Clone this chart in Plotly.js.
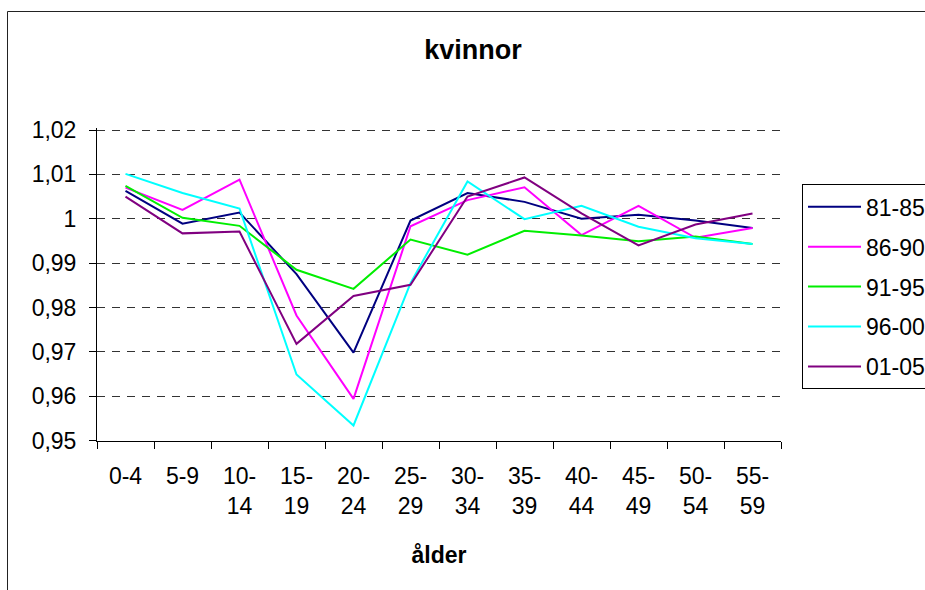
<!DOCTYPE html>
<html>
<head>
<meta charset="utf-8">
<script src="https://cdn.plot.ly/plotly-3.0.1.min.js"></script>
<style>
  html, body { margin: 0; padding: 0; overflow: hidden; background: #fff; }
  #chart { width: 960px; height: 620px; }
</style>
</head>
<body>
<div id="chart"></div>
<script>
// Age groups (categories) and their two-line tick labels
const categories = ['0-4','5-9','10-14','15-19','20-24','25-29','30-34','35-39','40-44','45-49','50-54','55-59'];
const categoryLabels = ['0-4','5-9','10-<br>14','15-<br>19','20-<br>24','25-<br>29','30-<br>34','35-<br>39','40-<br>44','45-<br>49','50-<br>54','55-<br>59'];

// Series values
const s8185 = [1.0063, 0.9989, 1.0014, 0.9875, 0.9698, 0.9996, 1.0058, 1.0038, 1.0000, 1.0009, 0.9996, 0.9979];
const s8690 = [1.0070, 1.0020, 1.0088, 0.9782, 0.9594, 0.9983, 1.0042, 1.0071, 0.9963, 1.0029, 0.9957, 0.9979];
const s9195 = [1.0074, 1.0002, 0.9984, 0.9885, 0.9842, 0.9953, 0.9919, 0.9973, 0.9962, 0.9949, 0.9960, 0.9943];
const s9600 = [1.0101, 1.0058, 1.0023, 0.9649, 0.9534, 0.9855, 1.0084, 0.9999, 1.0029, 0.9982, 0.9956, 0.9943];
const s0105 = [1.0050, 0.9967, 0.9971, 0.9718, 0.9826, 0.9851, 1.0050, 1.0093, 1.0012, 0.9940, 0.9987, 1.0012];

const seriesNames = ['81-85','86-90','91-95','96-00','01-05'];
const seriesValues = [s8185, s8690, s9195, s9600, s0105];
const seriesColors = ['#000080','#FF00FF','#00EE00','#00FFFF','#800080'];

// Y tick values and labels (decimal comma)
const yTickVals = [0.95, 0.96, 0.97, 0.98, 0.99, 1.00, 1.01, 1.02];
const yTickText = ['0,95','0,96','0,97','0,98','0,99','1','1,01','1,02'];

const FONT = 'Liberation Sans, Arial, Helvetica, sans-serif';

const traces = seriesNames.map((name, i) => ({
  type: 'scatter',
  mode: 'lines',
  name: name,
  legendgroup: name,
  x: categories,
  y: seriesValues[i],
  line: { color: seriesColors[i], width: 2 },
  hoverinfo: 'x+y+name'
}));

const layout = {
  width: 960,
  height: 620,
  margin: { l: 97, r: 179, t: 128, b: 179 },
  paper_bgcolor: '#ffffff',
  plot_bgcolor: '#ffffff',
  font: { family: FONT, color: '#000000', size: 23 },
  title: {
    text: 'kvinnor',
    font: { family: FONT, size: 27, weight: 700, color: '#000000' },
    xref: 'container', yref: 'container',
    x: 473 / 960, xanchor: 'center',
    y: 1 - 50 / 620, yanchor: 'middle'
  },
  xaxis: {
    type: 'category',
    range: [-0.5, categories.length - 0.5],
    tickvals: categories,
    ticktext: categoryLabels,
    tickson: 'boundaries',
    ticks: 'outside',
    ticklen: 7,
    tickwidth: 1,
    tickcolor: '#000000',
    showline: true,
    linecolor: '#000000',
    linewidth: 1,
    showgrid: false,
    zeroline: false,
    tickangle: 0,
    ticklabelstandoff: 14,
    tickfont: { family: FONT, size: 23, color: '#000000' },
    title: {
      text: 'ålder',
      font: { family: FONT, size: 23, weight: 700, color: '#000000' },
      standoff: 29
    },
    automargin: false,
    fixedrange: true
  },
  yaxis: {
    range: [0.9499, 1.02045],
    tickvals: yTickVals,
    ticktext: yTickText,
    ticks: 'outside',
    ticklen: 7,
    tickwidth: 1,
    tickcolor: '#000000',
    showline: true,
    linecolor: '#000000',
    linewidth: 1,
    showgrid: true,
    gridcolor: '#333333',
    gridwidth: 1,
    griddash: '8px,7px',
    zeroline: false,
    ticklabelstandoff: 8,
    tickfont: { family: FONT, size: 23, color: '#000000' },
    automargin: false,
    fixedrange: true
  },
  legend: {
    x: (802 - 97) / 684,
    xanchor: 'left',
    y: 0.82,
    yanchor: 'top',
    bgcolor: '#ffffff',
    bordercolor: '#000000',
    borderwidth: 1,
    font: { family: FONT, size: 23, color: '#000000' },
    tracegroupgap: 7,
    traceorder: 'grouped',
    itemwidth: 53
  },
  showlegend: true,
  shapes: [{
    type: 'rect',
    xref: 'paper', yref: 'paper',
    x0: (7.5 - 97) / 684, x1: 1.6,
    y0: -1, y1: (441 - 11.5) / 313,
    line: { color: '#222222', width: 1 },
    fillcolor: 'rgba(0,0,0,0)',
    layer: 'below'
  }]
};

Plotly.newPlot('chart', traces, layout, { staticPlot: true, displayModeBar: false });
</script>
</body>
</html>
